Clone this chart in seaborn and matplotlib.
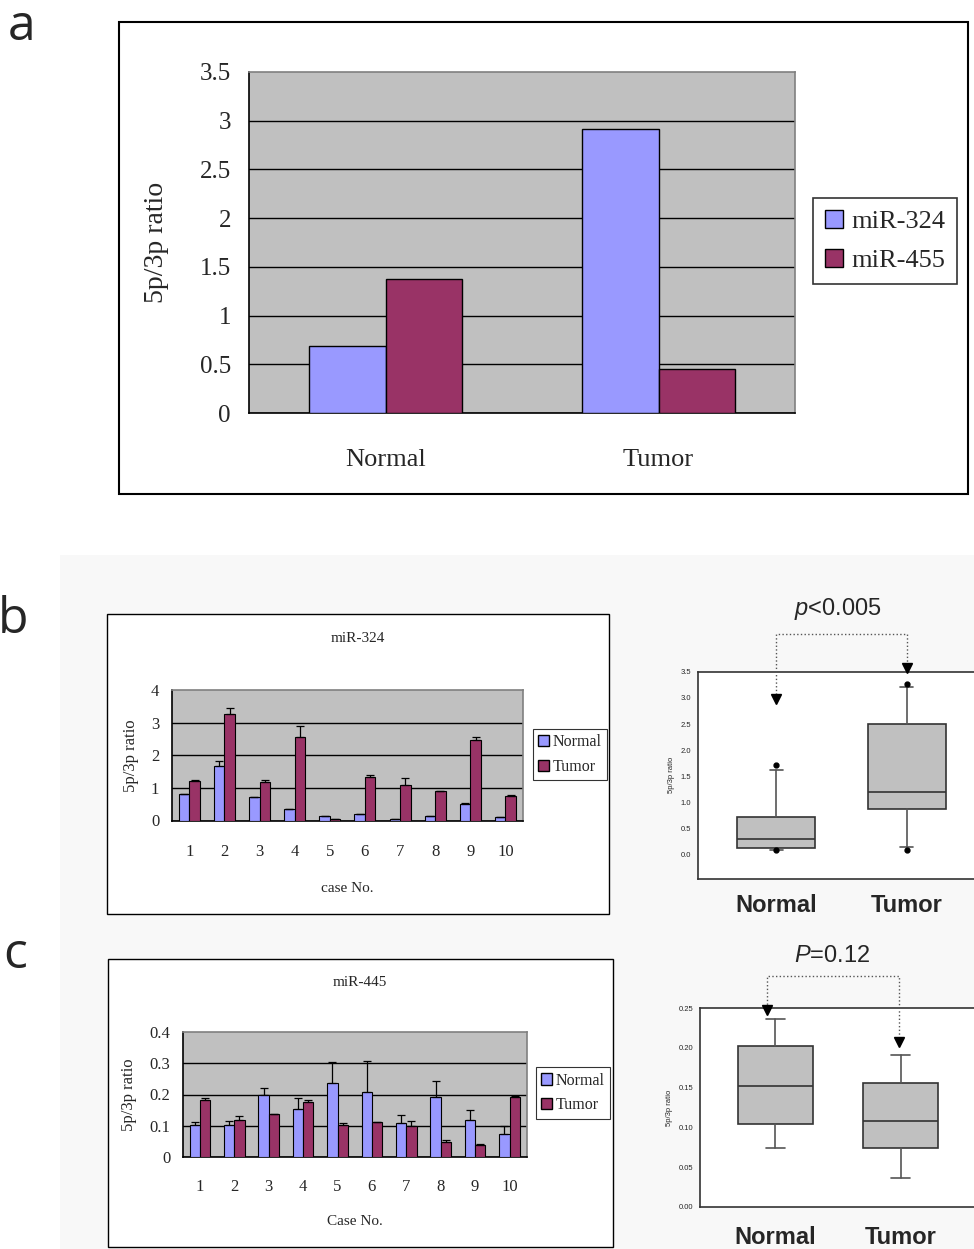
import numpy as np
import pandas as pd
import seaborn as sns
import matplotlib.pyplot as plt
from matplotlib.patches import Rectangle, Patch

W, H = 974, 1249
BLUE = '#9999ff'
RED = '#993366'
GRAY = '#c0c0c0'
SERIF = ['Liberation Serif', 'DejaVu Serif']
SANS = ['Liberation Sans', 'DejaVu Sans']

# ---- data ----
# panel a: mean 5p/3p ratio
groups_a = ['Normal', 'Tumor']
mir324_a = [0.69, 2.92]
mir455_a = [1.38, 0.45]

# panel b/c: per case
cases = [str(i) for i in range(1, 11)]
b_normal = [0.80, 1.68, 0.71, 0.34, 0.14, 0.21, 0.06, 0.14, 0.50, 0.10]
b_normal_err = [0, 0.15, 0, 0, 0, 0, 0, 0, 0.05, 0]
b_tumor = [1.20, 3.27, 1.17, 2.56, 0.05, 1.32, 1.09, 0.89, 2.47, 0.74]
b_tumor_err = [0.03, 0.19, 0.07, 0.35, 0, 0.06, 0.21, 0.01, 0.09, 0.05]

c_normal = [0.101, 0.101, 0.200, 0.154, 0.238, 0.207, 0.107, 0.191, 0.118, 0.074]
c_normal_err = [0.012, 0.014, 0.020, 0.034, 0.068, 0.102, 0.026, 0.054, 0.033, 0.025]
c_tumor = [0.182, 0.118, 0.136, 0.177, 0.101, 0.110, 0.098, 0.046, 0.038, 0.192]
c_tumor_err = [0.006, 0.012, 0.002, 0.005, 0.007, 0, 0.018, 0.007, 0.002, 0.002]

# box plots: whislo, q1, median, q3, whishi
box_b_normal = [0.095, 0.13, 0.30, 0.72, 1.62]
box_b_tumor = [0.15, 0.87, 1.20, 2.50, 3.20]
box_b_fliers = [[1.71, 0.10], [3.27, 0.10]]
box_c_normal = [0.074, 0.104, 0.1525, 0.202, 0.236]
box_c_tumor = [0.0366, 0.074, 0.1076, 0.156, 0.191]
box_c_fliers = [[], []]


def rect(x0, y0, x1, y1):
    return [x0 / W, 1 - y1 / H, (x1 - x0) / W, (y1 - y0) / H]


def frame(fig, x0, y0, x1, y1, lw=1.5, fc='white'):
    fig.add_artist(Rectangle((x0 / W, 1 - y1 / H), (x1 - x0) / W, (y1 - y0) / H,
                             transform=fig.transFigure, facecolor=fc,
                             edgecolor='black' if lw else 'none', lw=lw, zorder=-1))


def style_excel(ax, tick_size):
    ax.set_facecolor(GRAY)
    ax.set_axisbelow(True)
    ax.yaxis.grid(True, color='black', lw=1)
    ax.get_ygridlines()[-1].set_visible(False)
    for s in ['left', 'bottom']:
        ax.spines[s].set_color('black')
        ax.spines[s].set_linewidth(1.2)
    for s in ['top', 'right']:
        ax.spines[s].set_color('#808080')
        ax.spines[s].set_linewidth(1.2)
    ax.tick_params(axis='x', which='major', length=0)
    ax.tick_params(axis='x', which='minor', direction='in', length=5, color='black')
    ax.tick_params(axis='y', length=3)
    for t in ax.get_xticklabels() + ax.get_yticklabels():
        t.set_family(SERIF)
        t.set_fontsize(tick_size)


def add_err(ax, conts, errs):
    for cont, err in zip(conts, errs):
        xs = [p.get_x() + p.get_width() / 2 for p in cont]
        ys = [p.get_height() for p in cont]
        ax.errorbar(xs, ys, yerr=[np.zeros(len(err)), err], fmt='none',
                    ecolor='black', elinewidth=0.9, capsize=3, capthick=0.9, zorder=4)


def bar_panel(ax, normal, tumor, nerr, terr, ymax, yticks, tick_size):
    df = pd.DataFrame({'case': cases * 2, 'ratio': normal + tumor,
                       'group': ['Normal'] * 10 + ['Tumor'] * 10})
    sns.barplot(data=df, x='case', y='ratio', hue='group', order=cases,
                hue_order=['Normal', 'Tumor'], palette=[BLUE, RED], width=0.6,
                saturation=1, edgecolor='black', linewidth=0.8, errorbar=None,
                legend=False, ax=ax, zorder=3)
    conts = list(ax.containers)
    add_err(ax, conts, [nerr, terr])
    ax.set_xlim(-0.5, 9.5)
    ax.set_ylim(0, ymax)
    ax.set_yticks(yticks)
    ax.set_yticklabels([f'{v:g}' for v in yticks])
    ax.set_xticks(np.arange(0.5, 9, 1), minor=True)
    ax.set_xlabel('')
    style_excel(ax, tick_size)


def box_panel(ax, normal, tumor, fliers, ylim, yticks, fmt, capw):
    stats = []
    for name, v, fl in zip(['Normal', 'Tumor'], [normal, tumor], fliers):
        stats.append(dict(label=name, whislo=v[0], q1=v[1], med=v[2], q3=v[3],
                          whishi=v[4], fliers=fl))
    ax.bxp(stats, positions=[0, 1], widths=0.6, capwidths=capw, patch_artist=True,
           boxprops=dict(facecolor=GRAY, edgecolor='#333333', lw=1.2),
           medianprops=dict(color='#333333', lw=1.2),
           whiskerprops=dict(color='#555555', lw=1.2),
           capprops=dict(color='#555555', lw=1.2),
           flierprops=dict(marker='o', markerfacecolor='black', markeredgecolor='black',
                           markersize=3.5))
    ax.set_xlim(-0.6, 1.6)
    ax.set_ylim(*ylim)
    ax.set_yticks(yticks)
    ax.set_yticklabels([fmt.format(v) for v in yticks], fontsize=5.5, family=SANS)
    ax.set_xticks([0, 1])
    ax.spines['right'].set_visible(False)
    for s in ['left', 'bottom', 'top']:
        ax.spines[s].set_color('#333333')
        ax.spines[s].set_linewidth(1.2)
    ax.tick_params(axis='y', length=3, width=0.8, pad=2, color='#333333')
    ax.set_ylabel('5p/3p ratio', fontsize=5.5, family=SANS, labelpad=4)
    ax.set_facecolor('white')


def legend(ax, labels, center, size, lw, **kw):
    ax.legend(handles=[Patch(facecolor=BLUE, edgecolor='black', label=labels[0]),
                       Patch(facecolor=RED, edgecolor='black', label=labels[1])],
              loc='center', bbox_to_anchor=(center[0] / W, 1 - center[1] / H),
              bbox_transform=ax.figure.transFigure, prop={'family': SERIF, 'size': size},
              frameon=True, fancybox=False, edgecolor='black', handlelength=0.7,
              handleheight=0.7, borderaxespad=0, **kw)
    ax.get_legend().get_frame().set_linewidth(lw)


sns.set_style('white')
plt.rcParams['mathtext.fontset'] = 'custom'
plt.rcParams['mathtext.it'] = 'Liberation Sans:italic'
plt.rcParams['mathtext.rm'] = 'Liberation Sans'

fig = plt.figure(figsize=(W / 100, H / 100), dpi=100)
fig.patch.set_facecolor('white')

# light background of lower half
fig.add_artist(Rectangle((60 / W, 0), (W - 60) / W, (H - 555) / H, transform=fig.transFigure,
                         facecolor='#f8f8f8', edgecolor='none', zorder=-2))

# ---------------- panel a ----------------
frame(fig, 119, 22, 968, 494)
ax_a = fig.add_axes(rect(249, 72, 795, 413))
df_a = pd.DataFrame({'group': groups_a * 2, 'ratio': mir324_a + mir455_a,
                     'miR': ['miR-324'] * 2 + ['miR-455'] * 2})
sns.barplot(data=df_a, x='group', y='ratio', hue='miR', order=groups_a,
            palette=[BLUE, RED], width=0.56, saturation=1, edgecolor='black', linewidth=1,
            errorbar=None, legend=False, ax=ax_a, zorder=3)
ax_a.set_xlim(-0.5, 1.5)
ax_a.set_ylim(0, 3.5)
yt = np.arange(0, 3.51, 0.5)
ax_a.set_yticks(yt)
ax_a.set_yticklabels([f'{v:g}' for v in yt])
ax_a.set_xticks([0.5], minor=True)
ax_a.set_xlabel('')
style_excel(ax_a, 18)
ax_a.tick_params(axis='x', which='major', pad=26, labelsize=19)
ax_a.tick_params(axis='y', pad=10)
ax_a.set_ylabel('5p/3p ratio', family=SERIF, fontsize=20)
ax_a.yaxis.set_label_coords(-0.147, 0.5)
legend(ax_a, ['miR-324', 'miR-455'], (885, 241), 19, 1.2,
       handletextpad=0.3, labelspacing=0.6, borderpad=0.45)
fig.text(22 / W, 1 - 27 / H, 'a', family=['Open Sans', 'DejaVu Sans'], fontsize=36,
         ha='center', va='center')

# ---------------- panel b ----------------
frame(fig, 107, 614, 609, 914, lw=1)
ax_b = fig.add_axes(rect(171.7, 690, 523, 820.5))
bar_panel(ax_b, b_normal, b_tumor, b_normal_err, b_tumor_err, 4, [0, 1, 2, 3, 4], 12)
ax_b.tick_params(axis='x', which='major', pad=17)
ax_b.tick_params(axis='y', pad=6)
ax_b.set_ylabel('5p/3p ratio', family=SERIF, fontsize=12)
ax_b.yaxis.set_label_coords(-0.093, 0.5)
ax_b.set_xlabel('case No.', family=SERIF, fontsize=11)
ax_b.xaxis.set_label_coords(0.5, -0.47)
fig.text(358 / W, 1 - 638 / H, 'miR-324', family=SERIF, fontsize=11, ha='center', va='center')
legend(ax_b, ['Normal', 'Tumor'], (570, 754.5), 11.5, 0.8,
       handletextpad=0.2, labelspacing=0.55, borderpad=0.35)
fig.text(13 / W, 1 - 620 / H, 'b', family=['Open Sans', 'DejaVu Sans'], fontsize=36,
         ha='center', va='center')

ax_bb = fig.add_axes(rect(698, 671.7, 985, 879))
box_panel(ax_bb, box_b_normal, box_b_tumor, box_b_fliers, (-0.46, 3.5),
          np.arange(0, 3.51, 0.5), '{:.1f}', 0.1)
ax_bb.set_xticklabels(['Normal', 'Tumor'], fontsize=17, fontweight='bold', family=SANS)
ax_bb.tick_params(axis='x', length=3, pad=8, color='#333333')
# significance bracket b
ax_bb.plot([0, 0, 1, 1], [3.0, 4.22, 4.22, 3.62], ls=':', lw=1, color='#555555',
           clip_on=False, zorder=5)
ax_bb.plot([0, 1], [2.98, 3.58], ls='none', marker='v', ms=7, color='black',
           clip_on=False, zorder=6)
ax_bb.text(0.47, 4.69, '$p$<0.005', fontsize=17, family=SANS, ha='center', va='center')

# ---------------- panel c ----------------
frame(fig, 108, 959, 613, 1247, lw=1)
ax_c = fig.add_axes(rect(182.7, 1032.3, 526.7, 1156.7))
bar_panel(ax_c, c_normal, c_tumor, c_normal_err, c_tumor_err, 0.4,
          [0, 0.1, 0.2, 0.3, 0.4], 12)
ax_c.tick_params(axis='x', which='major', pad=16)
ax_c.tick_params(axis='y', pad=6)
ax_c.set_ylabel('5p/3p ratio', family=SERIF, fontsize=12)
ax_c.yaxis.set_label_coords(-0.133, 0.5)
ax_c.set_xlabel('Case No.', family=SERIF, fontsize=11)
ax_c.xaxis.set_label_coords(0.5, -0.47)
fig.text(360 / W, 1 - 982 / H, 'miR-445', family=SERIF, fontsize=11, ha='center', va='center')
legend(ax_c, ['Normal', 'Tumor'], (573, 1093), 11.5, 0.8,
       handletextpad=0.2, labelspacing=0.55, borderpad=0.35)
fig.text(15 / W, 1 - 955 / H, 'c', family=['Open Sans', 'DejaVu Sans'], fontsize=36,
         ha='center', va='center')

ax_cb = fig.add_axes(rect(700, 1008.3, 976, 1206.7))
box_panel(ax_cb, box_c_normal, box_c_tumor, box_c_fliers, (0, 0.25),
          np.arange(0, 0.251, 0.05), '{:.2f}', 0.15)
ax_cb.set_xticklabels(['Normal', 'Tumor'], fontsize=17, fontweight='bold', family=SANS)
ax_cb.tick_params(axis='x', length=3, pad=11, color='#333333')
# significance bracket c
ax_cb.plot([-0.065, -0.065, 0.985, 0.985], [0.25, 0.291, 0.291, 0.21], ls=':', lw=1,
           color='#555555', clip_on=False, zorder=5)
ax_cb.plot([-0.065, 0.985], [0.2475, 0.2075], ls='none', marker='v', ms=7, color='black',
           clip_on=False, zorder=6)
ax_cb.text(0.45, 0.316, '$P$=0.12', fontsize=17, family=SANS, ha='center', va='center')

fig.savefig('out.png', dpi=100)
